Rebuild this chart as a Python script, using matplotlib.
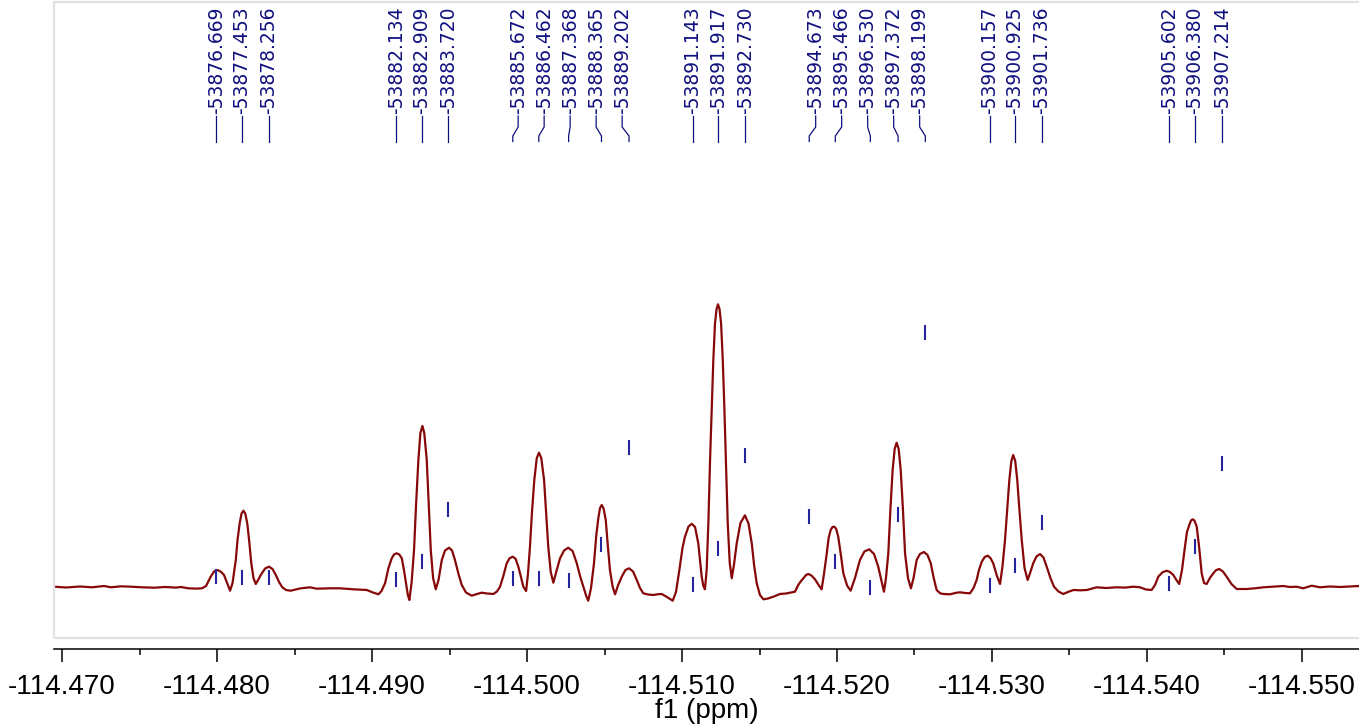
import numpy as np
import matplotlib
matplotlib.use("Agg")
import matplotlib.pyplot as plt
from matplotlib.patches import Rectangle
from matplotlib.ticker import MultipleLocator, FormatStrFormatter

# ---------------- data ----------------
trace_ppm = [
    -114.46948, -114.47026, -114.47116, -114.47194, -114.47271, -114.47316, -114.47381, -114.47445,
    -114.47516, -114.47594, -114.47665, -114.47735, -114.47768, -114.47813, -114.47865, -114.47903,
    -114.47929, -114.47959, -114.47981, -114.48002, -114.48023, -114.48045, -114.48065, -114.48084,
    -114.48100, -114.48121, -114.48132, -114.48146, -114.48158, -114.48170, -114.48182, -114.48195,
    -114.48208, -114.48221, -114.48235, -114.48250, -114.48265, -114.48282, -114.48310, -114.48335,
    -114.48358, -114.48379, -114.48400, -114.48421, -114.48445, -114.48475, -114.48540, -114.48600,
    -114.48643, -114.48729, -114.48794, -114.48879, -114.48966, -114.49006, -114.49041, -114.49061,
    -114.49084, -114.49106, -114.49127, -114.49142, -114.49159, -114.49176, -114.49192, -114.49206,
    -114.49219, -114.49231, -114.49241, -114.49255, -114.49271, -114.49284, -114.49299, -114.49312,
    -114.49325, -114.49337, -114.49353, -114.49366, -114.49379, -114.49394, -114.49411, -114.49429,
    -114.49450, -114.49471, -114.49497, -114.49516, -114.49535, -114.49558, -114.49579, -114.49606,
    -114.49643, -114.49677, -114.49708, -114.49742, -114.49783, -114.49806, -114.49826, -114.49847,
    -114.49869, -114.49887, -114.49908, -114.49926, -114.49944, -114.49961, -114.49976, -114.49994,
    -114.50006, -114.50019, -114.50032, -114.50047, -114.50063, -114.50077, -114.50092, -114.50110,
    -114.50123, -114.50137, -114.50153, -114.50170, -114.50190, -114.50213, -114.50239, -114.50266,
    -114.50294, -114.50321, -114.50342, -114.50363, -114.50381, -114.50395, -114.50413, -114.50432,
    -114.50447, -114.50460, -114.50471, -114.50482, -114.50494, -114.50508, -114.50521, -114.50535,
    -114.50552, -114.50568, -114.50587, -114.50611, -114.50635, -114.50658, -114.50684, -114.50708,
    -114.50729, -114.50750, -114.50781, -114.50815, -114.50842, -114.50869, -114.50903, -114.50940,
    -114.50961, -114.50983, -114.51003, -114.51019, -114.51042, -114.51063, -114.51084, -114.51105,
    -114.51116, -114.51127, -114.51137, -114.51148, -114.51159, -114.51170, -114.51181, -114.51192,
    -114.51202, -114.51213, -114.51223, -114.51232, -114.51242, -114.51252, -114.51263, -114.51273,
    -114.51284, -114.51295, -114.51308, -114.51321, -114.51335, -114.51353, -114.51377, -114.51406,
    -114.51429, -114.51450, -114.51465, -114.51482, -114.51503, -114.51525, -114.51555, -114.51589,
    -114.51632, -114.51671, -114.51697, -114.51729, -114.51750, -114.51768, -114.51783, -114.51800,
    -114.51815, -114.51835, -114.51858, -114.51881, -114.51901, -114.51916, -114.51934, -114.51946,
    -114.51959, -114.51971, -114.51983, -114.51995, -114.52008, -114.52025, -114.52041, -114.52065,
    -114.52088, -114.52116, -114.52148, -114.52177, -114.52208, -114.52239, -114.52266, -114.52286,
    -114.52303, -114.52316, -114.52331, -114.52345, -114.52359, -114.52372, -114.52385, -114.52398,
    -114.52411, -114.52425, -114.52439, -114.52458, -114.52477, -114.52494, -114.52514, -114.52535,
    -114.52561, -114.52584, -114.52605, -114.52624, -114.52643, -114.52665, -114.52686, -114.52729,
    -114.52772, -114.52794, -114.52826, -114.52858, -114.52881, -114.52901, -114.52916, -114.52934,
    -114.52953, -114.52972, -114.52990, -114.53008, -114.53030, -114.53052, -114.53068, -114.53084,
    -114.53098, -114.53112, -114.53125, -114.53137, -114.53150, -114.53163, -114.53177, -114.53192,
    -114.53210, -114.53230, -114.53248, -114.53266, -114.53287, -114.53310, -114.53332, -114.53353,
    -114.53377, -114.53400, -114.53429, -114.53460, -114.53490, -114.53525, -114.53568, -114.53611,
    -114.53676, -114.53735, -114.53805, -114.53858, -114.53912, -114.53955, -114.53994, -114.54030,
    -114.54052, -114.54073, -114.54100, -114.54127, -114.54148, -114.54170, -114.54190, -114.54208,
    -114.54226, -114.54245, -114.54258, -114.54273, -114.54284, -114.54295, -114.54306, -114.54321,
    -114.54335, -114.54353, -114.54368, -114.54385, -114.54406, -114.54428, -114.54445, -114.54466,
    -114.54490, -114.54514, -114.54545, -114.54579, -114.54643, -114.54697, -114.54750, -114.54815,
    -114.54879, -114.54923, -114.54966, -114.55008, -114.55063, -114.55116, -114.55181, -114.55245,
    -114.55368,
]
trace_int = [
    -0.7, -1.5, -0.5, -1.3, 0.0, -1.3, -0.3, -0.7,
    -1.3, -1.7, -1.0, -1.6, -1.0, -2.3, -2.6, -2.3,
    0.0, 9.3, 14.5, 16.0, 14.5, 11.0, 3.0, -4.7,
    3.0, 26.0, 46.0, 62.7, 72.5, 75.3, 72.5, 62.7,
    44.0, 22.7, 8.0, 2.0, 6.0, 11.0, 17.5, 19.3,
    17.0, 11.0, 4.0, -1.3, -4.0, -4.7, -2.3, -1.3,
    -2.7, -2.3, -2.3, -3.3, -4.0, -6.5, -8.3, -5.0,
    2.7, 18.0, 27.7, 31.5, 32.7, 31.5, 27.7, 16.0,
    2.7, -9.0, -14.0, 3.0, 36.0, 81.0, 126.0, 153.0,
    160.0, 153.0, 126.0, 81.0, 36.0, 8.0, -3.3, 6.0,
    26.0, 35.5, 38.3, 35.5, 26.0, 12.0, 1.0, -6.5,
    -9.7, -8.0, -6.7, -7.5, -8.0, -5.5, -0.7, 10.0,
    22.7, 27.7, 29.3, 27.2, 19.3, 9.0, -0.7, -5.0,
    12.0, 39.3, 74.0, 106.0, 128.0, 133.3, 128.0, 106.0,
    74.0, 39.3, 14.0, 3.3, 15.0, 27.7, 35.5, 38.3,
    35.0, 22.7, 10.0, -0.7, -9.5, -14.7, -2.0, 22.7,
    51.0, 67.7, 78.0, 81.0, 77.5, 66.0, 41.0, 16.0,
    -0.5, -8.3, 0.5, 9.3, 16.0, 17.7, 14.5, 6.0,
    -2.0, -7.3, -8.5, -9.0, -8.3, -8.0, -11.0, -14.7,
    -6.0, 16.0, 38.0, 49.3, 59.5, 62.2, 59.0, 42.7,
    26.0, 9.3, 0.5, -3.3, 16.0, 62.7, 126.0, 179.3,
    226.0, 262.7, 277.0, 281.7, 277.0, 262.7, 226.0, 179.3,
    121.0, 62.7, 23.0, 7.7, 21.0, 42.7, 63.0, 70.7,
    62.5, 42.7, 21.0, 2.7, -9.0, -13.3, -12.5, -10.7,
    -8.0, -7.5, -6.7, -5.7, 1.0, 5.0, 7.7, 11.0,
    12.0, 10.5, 6.7, 1.0, -3.3, 12.0, 32.7, 48.0,
    56.0, 59.0, 59.3, 57.0, 49.3, 31.0, 12.7, 0.5,
    -4.7, 8.0, 26.0, 34.5, 36.7, 32.0, 19.3, 6.0,
    -5.7, 8.0, 32.7, 78.0, 116.0, 137.0, 143.3, 137.0,
    116.0, 78.0, 32.7, 8.0, -2.3, 8.0, 26.0, 32.0,
    34.0, 31.0, 22.7, 8.0, -4.0, -7.3, -8.0, -8.3,
    -6.7, -6.3, -7.0, -7.3, -2.0, 6.0, 16.0, 24.3,
    29.0, 30.3, 28.0, 22.7, 11.0, 2.0, 20.0, 46.0,
    76.0, 106.0, 125.0, 131.0, 125.0, 106.0, 76.0, 46.0,
    18.0, 6.0, 14.0, 22.7, 29.5, 32.0, 28.5, 19.3,
    8.0, -0.7, -5.5, -8.0, -6.0, -4.0, -4.3, -4.0,
    -1.3, -2.0, -1.3, -1.6, -0.7, -1.3, -3.5, -4.0,
    1.0, 9.3, 13.7, 15.3, 14.0, 11.0, 6.0, 2.0,
    16.0, 39.3, 54.0, 61.0, 65.5, 66.7, 65.5, 59.3,
    41.0, 12.7, 3.0, 2.0, 8.0, 12.7, 15.8, 17.0,
    14.5, 9.3, 2.0, -3.0, -3.0, -2.3, -1.3, -0.7,
    0.0, -1.0, -0.7, -2.3, 0.3, -1.3, -0.5, -1.0,
    0.0,
]

# picked peaks (Hz, label values) and peak-marker levels
peak_hz = [53876.669, 53877.453, 53878.256, 53882.134, 53882.909, 53883.720,
           53885.672, 53886.462, 53887.368, 53888.365, 53889.202,
           53891.143, 53891.917, 53892.730,
           53894.673, 53895.466, 53896.530, 53897.372, 53898.199,
           53900.157, 53900.925, 53901.736,
           53905.602, 53906.380, 53907.214]
marker_level = [10, 9, 9, 7, 24.5, 77,
                8, 8, 5.5, 42, 139,
                2, 38, 130.5,
                69.5, 25, -1, 71.5, 253.5,
                1, 21, 63.5,
                3, 39.5, 123]
spectrometer_mhz = 470.6210

x_ticks = [-114.470, -114.480, -114.490, -114.500, -114.510,
           -114.520, -114.530, -114.540, -114.550]

# ---------------- figure ----------------
W, H = 1359, 725
fig = plt.figure(figsize=(W / 100, H / 100), dpi=100)

ax_left, ax_right = 54, 1359
ax_top, ax_bot = 2, 649
ax = fig.add_axes([ax_left / W, 1 - ax_bot / H, (ax_right - ax_left) / W, (ax_bot - ax_top) / H])

ax.set_xlim(-114.46948, -114.55368)
ax.set_ylim(-63, 584)

spec_color = "#870808"
lab_color = "#10107f"
mark_color = "#2424a0"

ax.plot(trace_ppm, trace_int, color=spec_color, lw=1.6, solid_joinstyle="round", zorder=3)

peak_ppm = -np.array(peak_hz) / spectrometer_mhz

# peak markers
for x, lv in zip(peak_ppm, marker_level):
    ax.plot([x, x], [lv - 6.5, lv + 6.5], color=mark_color, lw=1.5, zorder=4)

# label positions (spread groups)
label_x = peak_ppm.copy()
spacing = 26 / 15500.0
for grp in [list(range(6, 11)), list(range(14, 19))]:
    c = peak_ppm[grp].mean()
    for k, i in enumerate(grp):
        label_x[i] = c - (k - (len(grp) - 1) / 2) * spacing

y_top, y_b1, y_b2, y_bot = 470, 459, 450, 444.5
for hz, lx, px in zip(peak_hz, label_x, peak_ppm):
    ax.plot([lx, lx, px, px], [y_top, y_b1, y_b2, y_bot], color=lab_color, lw=0.9, zorder=4)
    ax.text(lx, 472, f"{-hz:.3f}", rotation=90, ha="center", va="bottom",
            fontsize=13.5, color=lab_color, family="DejaVu Sans")

# frame (light gray box)
fig.patches.append(Rectangle((ax_left / W, 1 - 638 / H), (W - ax_left + 5) / W, (638 - 2) / H,
                             transform=fig.transFigure, fill=False, edgecolor="#e2e2e2", lw=1.6))

for s in ["left", "right", "top"]:
    ax.spines[s].set_visible(False)
ax.spines["bottom"].set_color("black")
ax.spines["bottom"].set_linewidth(1.1)
ax.set_yticks([])
ax.set_xticks(x_ticks)
ax.xaxis.set_minor_locator(MultipleLocator(0.005))
ax.xaxis.set_major_formatter(FormatStrFormatter("%.3f"))
tick_font = ["Liberation Sans", "DejaVu Sans"]
ax.tick_params(axis="x", which="major", length=9, width=1.1, direction="out", pad=9,
               labelsize=20, colors="black")
ax.tick_params(axis="x", which="minor", length=4.5, width=1.1, direction="out")
for t in ax.get_xticklabels():
    t.set_family(tick_font)
ax.set_xlabel("f1 (ppm)", fontsize=20, family=tick_font)
ax.xaxis.set_label_coords(0.5, -(711 - ax_bot) / (ax_bot - ax_top))
ax.xaxis.label.set_va("center")
ax.patch.set_alpha(0)

fig.savefig("out.png", dpi=100)
